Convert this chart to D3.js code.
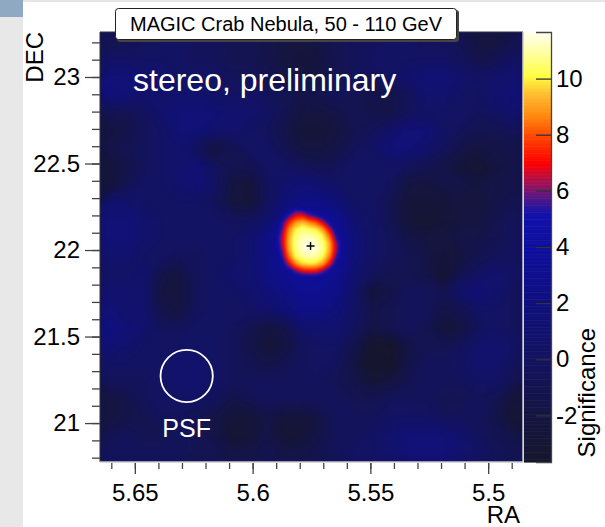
<!DOCTYPE html>
<html>
<head>
<meta charset="utf-8">
<script src="https://cdnjs.cloudflare.com/ajax/libs/d3/7.8.5/d3.min.js"></script>
<style>
  body { margin: 0; background: #fff; }
  svg { display: block; font-family: "Liberation Sans", Arial, Helvetica, sans-serif; }
</style>
</head>
<body>
<svg width="605" height="527"></svg>
<script>
// axis ranges
var raRange = [5.6648, 5.4852];
var decRange = [20.775, 23.26];
var zRange = [-3.66, 11.66];

// tick labels
var raMajor = [5.65, 5.6, 5.55, 5.5];
var decMajor = [21, 21.5, 22, 22.5, 23];
var zTicks = [-2, 0, 2, 4, 6, 8, 10];

// significance map, 24 x 24 cells over the whole frame (row 0 = top)
var bgRows = [
    [-0.9, -0.9, -0.3, 0.3, 0.3, -0.3, -0.3, -0.9, -0.9, -1.5, -2.1, -2.1, -1.5, -0.9, -0.3, -0.3, 0.3, 0.3, -0.3, -0.3, -0.9, -2.1, -2.1, -0.9],
    [0.3, 0.3, 0.3, 0.3, 0.3, -0.3, -0.3, -0.9, -0.9, -1.5, -2.1, -2.7, -2.1, -0.9, -0.3, 0.3, 0.3, 0.3, 0.3, 0.3, -0.3, -1.5, -0.9, 0.3],
    [1.5, 1.5, 0.9, 0.9, 0.3, 0.3, 0.3, -0.3, -0.3, -0.9, -1.5, -2.1, -1.5, -0.9, -0.3, -0.3, 0.3, 0.9, 1.5, 1.5, 0.9, 0.3, 0.9, 0.9],
    [2.1, 1.5, 0.9, 0.9, 0.9, 0.9, 0.3, 0.3, 0.3, -0.3, -0.9, -1.5, -0.9, -0.3, -0.9, -1.5, -1.5, -0.3, 0.9, 0.9, 0.3, 0.3, 0.9, 1.5],
    [-0.9, -0.9, -0.3, 0.9, 1.5, 1.5, 1.5, 0.9, 0.9, 0.3, -0.9, -2.1, -2.1, -1.5, -0.9, -1.5, -1.5, -0.3, 0.3, 0.3, 0.3, -0.3, 0.3, 0.9],
    [-2.1, -1.5, -0.3, 0.3, 1.5, 1.5, 0.9, 0.9, 0.3, -0.3, -1.5, -2.7, -2.7, -2.1, -0.9, -0.3, 0.9, 1.5, 1.5, 0.3, -0.3, -0.9, -0.9, -0.3],
    [-1.5, -0.9, -0.3, 0.3, 0.9, -0.3, -2.1, -0.9, 0.3, 0.3, -0.9, -2.1, -2.1, -1.5, -0.3, 0.3, 1.5, 1.5, 0.9, -0.3, -1.5, -2.1, -1.5, -1.5],
    [-2.7, -1.5, -0.3, 0.3, 0.9, 1.5, -0.3, -0.9, -0.9, 0.3, 0.3, -0.3, -0.9, -0.3, 0.3, 0.3, 0.3, -0.3, -0.9, -1.5, -2.7, -3.3, -2.1, -1.5],
    [-2.7, -0.9, 0.3, 0.3, 0.9, 1.5, 0.3, -2.1, -2.7, -0.3, 0.9, 1.5, 0.9, 0.3, 0.3, 0.3, -0.3, -2.1, -2.1, -1.5, -1.5, -2.1, -1.5, -1.5],
    [0.9, 0.9, 0.3, 0.3, 0.3, 0.3, -0.3, -2.1, -2.7, -0.3, 1.5, 2.5, 2.5, 1.5, 0.3, 0.3, -0.9, -2.7, -2.7, -2.7, -2.1, -2.1, -1.5, -0.9],
    [1.5, 1.5, 0.9, 0.3, 0.3, 0.3, 0.3, -0.3, -0.3, 0.9, 3.1, 3.7, 3.7, 3.1, 0.9, 0.3, -0.9, -2.7, -3.3, -2.7, -2.1, -2.1, -0.9, -0.3],
    [1.5, 1.5, 0.9, 0.3, 0.3, 0.3, 0.3, 0.3, 0.9, 2.5, 3.7, 4.2, 4.2, 3.7, 1.5, 0.3, -0.3, -1.5, -2.1, -2.1, -1.5, -1.5, -0.9, -0.3],
    [0.9, 0.9, 0.3, 0.3, -0.3, -0.3, 0.3, 0.3, 0.9, 2.5, 3.7, 4.2, 4.2, 3.7, 1.5, 0.3, -0.3, -0.9, -1.5, -2.7, -2.1, -0.9, -0.3, -0.3],
    [0.3, 0.3, 0.9, -1.5, -2.1, -0.3, 0.3, 0.9, 0.9, 2.5, 3.1, 3.7, 3.7, 3.1, 0.9, -0.3, -0.9, -0.9, -1.5, -3.3, -0.9, 0.3, 0.9, 0.3],
    [0.9, 0.9, 0.9, -2.1, -2.1, -0.3, 0.3, 0.3, 0.9, 1.5, 2.5, 3.1, 3.1, 2.5, 0.3, -2.7, -1.5, -0.3, -0.3, -0.9, 0.9, 1.5, 0.9, -0.3],
    [1.5, 0.9, 0.9, -1.5, -2.1, -0.3, 0.3, 0.3, 0.3, 0.9, 1.5, 2.5, 2.5, 1.5, 0.3, -1.5, -0.9, -0.3, -0.3, -1.5, -0.9, 0.3, 0.3, -0.3],
    [2.1, 1.5, 0.9, -0.3, -0.3, 0.3, 0.3, -0.3, -0.9, -2.1, -1.5, 0.9, 0.9, 0.9, -0.3, -1.5, -0.9, -0.3, -0.9, -2.7, -2.1, -0.3, 0.3, -0.3],
    [1.5, 0.9, 0.3, 0.3, 0.3, 0.3, 0.3, -0.3, -1.5, -2.7, -2.1, -0.3, 0.3, 0.3, -1.5, -3.8, -3.8, -1.5, -0.9, -0.9, -0.3, 0.9, 0.9, 0.3],
    [0.3, 0.3, 0.3, 0.3, 0.9, 0.9, 0.3, -0.3, -0.9, -1.5, -0.9, -0.3, 0.3, -0.3, -2.1, -4.4, -3.8, -1.5, -0.3, -0.3, 0.3, 0.9, 0.9, -0.3],
    [-0.3, -0.3, -0.3, 0.3, 0.9, 0.9, 0.3, -0.3, -0.3, -0.3, -0.3, -0.3, -0.3, -0.9, -1.5, -2.7, -2.1, -0.9, -0.3, -0.3, -0.3, 0.3, 0.3, -0.9],
    [-2.1, -1.5, -0.3, 0.3, 0.3, 0.3, -0.3, -1.5, -0.9, -0.3, -0.3, -0.3, -0.3, -0.3, -0.9, -0.9, -0.3, -0.3, -0.3, -0.9, -0.9, -0.3, -0.9, -2.7],
    [-2.1, -1.5, -0.9, -0.3, -0.3, -0.9, -1.5, -2.7, -2.7, -1.5, -2.7, -2.7, -1.5, -0.3, -0.3, -0.3, 0.3, 0.3, 0.3, -0.3, -0.3, -0.3, -1.5, -3.3],
    [-0.9, -0.3, -0.9, -0.9, -0.3, -0.9, -1.5, -3.3, -2.7, -1.5, -3.3, -2.7, -1.5, -0.3, -0.3, 0.3, 0.9, 1.5, 1.5, 1.5, 0.9, -0.3, -0.9, -1.5],
    [-0.3, -0.3, -0.3, -0.3, -0.3, -0.9, -0.9, -1.5, -1.5, -0.9, -1.5, -1.5, -0.9, -0.3, 0.3, 0.3, 0.9, 1.5, 1.5, 1.5, 0.9, 0.3, -0.3, -0.9]
];

// finer cut-out around the Crab, 12 x 13 cells
var srcRa = [5.595, 5.560];
var srcDec = [22.30, 21.78];
var srcRows = [
    [3.4, 3.5, 3.7, 3.8, 3.9, 3.8, 3.7, 3.6, 3.5, 3.4, 3.3, 3.2],
    [3.4, 3.65, 3.85, 4.2, 4.7, 4.45, 4.1, 3.95, 3.8, 3.6, 3.45, 3.3],
    [3.5, 3.8, 4.25, 5.3, 6.85, 7.05, 5.85, 5.2, 4.35, 3.9, 3.65, 3.4],
    [3.55, 3.9, 4.9, 7.3, 8.8, 9.4, 8.7, 8.05, 6.6, 4.65, 3.9, 3.6],
    [3.6, 3.95, 5.45, 8.5, 9.95, 10.55, 10.3, 10.0, 8.95, 6.7, 4.3, 3.75],
    [3.65, 4.1, 6.1, 8.95, 10.5, 11.1, 11.15, 10.85, 10.1, 8.25, 5.1, 3.9],
    [3.6, 4.05, 6.15, 9.15, 10.65, 11.35, 11.5, 11.35, 10.65, 9.1, 6.05, 4.05],
    [3.55, 3.95, 5.65, 8.9, 10.55, 11.3, 11.6, 11.35, 10.7, 9.15, 6.15, 4.05],
    [3.5, 3.85, 5.0, 8.15, 10.05, 10.8, 11.0, 10.9, 10.2, 8.5, 5.45, 3.95],
    [3.45, 3.75, 4.3, 6.55, 8.7, 9.65, 9.9, 9.75, 8.95, 6.95, 4.45, 3.8],
    [3.35, 3.6, 3.85, 4.45, 5.85, 7.0, 7.2, 7.1, 6.1, 4.65, 3.95, 3.6],
    [3.25, 3.4, 3.6, 3.8, 4.05, 4.25, 4.25, 4.25, 4.1, 3.85, 3.65, 3.45],
    [3.15, 3.3, 3.45, 3.55, 3.65, 3.7, 3.7, 3.7, 3.65, 3.55, 3.45, 3.3]
];

var psf = {ra: 5.628, dec: 21.272, r: 0.151};
var crab = {ra: 5.5754, dec: 22.023};

// palette of the colour bar
var palStops = [-3.66, -2, 0, 2, 4, 5.2, 5.8, 6.4, 7, 8, 8.7, 9.5, 10.1, 11, 11.66];
var palColors = ['#16162e', '#151542', '#131360', '#10107e', '#0e0e9e', '#1212aa', '#581884', '#b0104a',
                 '#ff0000', '#ff4a00', '#ff8a10', '#ffc030', '#ffff40', '#ffffa8', '#ffffee'];

var svg = d3.select('svg');
var frame = {l: 100, r: 523, t: 32, b: 462};
var bar = {l: 524, r: 551};
var font = '"Liberation Sans", Arial, Helvetica, sans-serif';

var xScale = d3.scaleLinear().domain(raRange).range([frame.l, frame.r]);
var yScale = d3.scaleLinear().domain(decRange).range([frame.b, frame.t]);
var zScale = d3.scaleLinear().domain(zRange).range([frame.b, frame.t]);
var color = d3.scaleLinear().domain(palStops).range(palColors).clamp(true);

// page decoration on the left
svg.append('rect').attr('x', 0).attr('y', 0).attr('width', 605).attr('height', 2).attr('fill', '#e6e6e6');
svg.append('rect').attr('x', 0).attr('y', 0).attr('width', 23).attr('height', 527).attr('fill', '#e8e8e8');
svg.append('rect').attr('x', 0).attr('y', 0).attr('width', 23).attr('height', 17).attr('fill', '#8ea9c1');

var defs = svg.append('defs');
defs.append('clipPath').attr('id', 'plotClip')
    .append('rect')
    .attr('x', frame.l).attr('y', frame.t)
    .attr('width', frame.r - frame.l).attr('height', frame.b - frame.t);
defs.append('filter').attr('id', 'softBg')
    .attr('color-interpolation-filters', 'sRGB')
    .append('feGaussianBlur').attr('stdDeviation', 3);
defs.append('filter').attr('id', 'softSrc')
    .attr('color-interpolation-filters', 'sRGB')
    .append('feGaussianBlur').attr('stdDeviation', 1.2);

var mapG = svg.append('g').attr('clip-path', 'url(#plotClip)');
mapG.append('rect')
    .attr('x', frame.l).attr('y', frame.t)
    .attr('width', frame.r - frame.l).attr('height', frame.b - frame.t)
    .attr('fill', color(-0.3));

// draws a grid of values as filled contour bands
function drawGrid(g, rows, ra, dec, thresholds) {
    var nx = rows[0].length, ny = rows.length;
    var gx = d3.scaleLinear().domain([0, nx]).range([xScale(ra[0]), xScale(ra[1])]);
    var gy = d3.scaleLinear().domain([0, ny]).range([yScale(dec[0]), yScale(dec[1])]);
    var path = d3.geoPath(d3.geoTransform({
        point: function(x, y) { this.stream.point(gx(x), gy(y)); }
    }));
    var bands = d3.contours().size([nx, ny]).thresholds(thresholds)(d3.merge(rows));
    g.selectAll('path')
        .data(bands)
        .enter()
        .append('path')
        .attr('d', path)
        .attr('fill', function(d) { return color(d.value + 0.05); })
        .attr('stroke', 'none');
}

var bgG = mapG.append('g').attr('filter', 'url(#softBg)');
drawGrid(bgG, bgRows, [raRange[0], raRange[1]], [decRange[1], decRange[0]], d3.range(-4.5, 4.8, 0.1));

var srcG = mapG.append('g').attr('filter', 'url(#softSrc)');
drawGrid(srcG, srcRows, srcRa, srcDec, d3.range(4.6, 11.7, 0.1));

// source marker
var cx = xScale(crab.ra), cy = yScale(crab.dec);
mapG.append('path')
    .attr('d', 'M' + (cx - 4) + ',' + cy + 'H' + (cx + 4) + 'M' + cx + ',' + (cy - 4) + 'V' + (cy + 4))
    .attr('stroke', '#000').attr('stroke-width', 1.4);

// PSF circle
mapG.append('circle')
    .attr('cx', xScale(psf.ra))
    .attr('cy', yScale(psf.dec))
    .attr('r', yScale(psf.dec - psf.r) - yScale(psf.dec))
    .attr('fill', 'none').attr('stroke', '#fff').attr('stroke-width', 1.8);
mapG.append('text')
    .attr('x', xScale(psf.ra)).attr('y', 437)
    .attr('text-anchor', 'middle')
    .attr('font-size', '25px').attr('fill', '#fff')
    .text('PSF');

mapG.append('text')
    .attr('x', 133).attr('y', 91)
    .attr('font-size', '32px').attr('fill', '#fff')
    .text('stereo, preliminary');

// frame
svg.append('line').attr('x1', frame.l).attr('x2', frame.l).attr('y1', frame.t).attr('y2', frame.b)
    .attr('stroke', '#333').attr('stroke-width', 1);
svg.append('line').attr('x1', frame.l).attr('x2', frame.r).attr('y1', frame.t).attr('y2', frame.t)
    .attr('stroke', '#333').attr('stroke-width', 1);
svg.append('line').attr('x1', frame.l).attr('x2', frame.r).attr('y1', frame.b).attr('y2', frame.b)
    .attr('stroke', '#c8c8cc').attr('stroke-width', 1.5);
svg.append('line').attr('x1', frame.r).attr('x2', frame.r).attr('y1', frame.t).attr('y2', frame.b)
    .attr('stroke', '#c8c8cc').attr('stroke-width', 1.5);

// axes
function styleAxis(g) {
    g.select('.domain').remove();
    g.selectAll('.tick line').attr('stroke', '#444').attr('stroke-width', 1.3);
    g.selectAll('.tick text').attr('fill', '#000').attr('font-size', '24px').attr('font-family', font);
}

svg.append('g')
    .attr('transform', 'translate(0,' + (frame.b + 1) + ')')
    .call(d3.axisBottom(xScale).tickValues(xScale.ticks(20)).tickSize(6).tickFormat(''))
    .call(styleAxis);
svg.append('g')
    .attr('transform', 'translate(0,' + (frame.b + 1) + ')')
    .call(d3.axisBottom(xScale).tickValues(raMajor).tickSize(11).tickPadding(10)
        .tickFormat(function(d) { return String(d); }))
    .call(styleAxis);

svg.append('g')
    .attr('transform', 'translate(' + frame.l + ',0)')
    .call(d3.axisLeft(yScale).tickValues(yScale.ticks(25)).tickSize(8).tickFormat(''))
    .call(styleAxis);
svg.append('g')
    .attr('transform', 'translate(' + frame.l + ',0)')
    .call(d3.axisLeft(yScale).tickValues(decMajor).tickSize(15).tickPadding(5)
        .tickFormat(function(d) { return String(d); }))
    .call(styleAxis);

// colour bar
var zSteps = d3.range(zRange[0], zRange[1], 0.05);
svg.append('g').selectAll('rect')
    .data(zSteps)
    .enter()
    .append('rect')
    .attr('x', bar.l)
    .attr('width', bar.r - bar.l)
    .attr('y', function(d) { return zScale(Math.min(d + 0.05, zRange[1])); })
    .attr('height', function(d) { return zScale(d) - zScale(Math.min(d + 0.05, zRange[1])) + 0.6; })
    .attr('fill', function(d) { return color(d + 0.025); });

svg.append('g')
    .attr('transform', 'translate(' + bar.r + ',0)')
    .call(d3.axisRight(zScale).tickValues(zTicks).tickSize(-15).tickPadding(5)
        .tickFormat(function(d) { return String(d); }))
    .call(function(g) {
        g.select('.domain').attr('stroke', '#444').attr('stroke-width', 1.3);
        g.selectAll('.tick line').attr('stroke', '#333').attr('stroke-width', 1.3);
        g.selectAll('.tick text').attr('x', 5).attr('text-anchor', 'start')
            .attr('fill', '#000').attr('font-size', '24px').attr('font-family', font);
    });

// axis titles
svg.append('text')
    .attr('x', 520).attr('y', 523)
    .attr('text-anchor', 'end').attr('font-size', '24px')
    .text('RA');
svg.append('text')
    .attr('transform', 'translate(43,32) rotate(-90)')
    .attr('text-anchor', 'end').attr('font-size', '24px')
    .text('DEC');
svg.append('text')
    .attr('transform', 'translate(595,328) rotate(-90)')
    .attr('text-anchor', 'end').attr('font-size', '24px')
    .text('Significance');

// title box
svg.append('rect')
    .attr('x', 117).attr('y', 10).attr('width', 342).attr('height', 32).attr('rx', 3)
    .attr('fill', '#444');
svg.append('rect')
    .attr('x', 115.5).attr('y', 8.5).attr('width', 341).attr('height', 31).attr('rx', 3)
    .attr('fill', '#fff').attr('stroke', '#222').attr('stroke-width', 1);
svg.append('text')
    .attr('x', 286).attr('y', 31)
    .attr('text-anchor', 'middle').attr('font-size', '20px')
    .text('MAGIC Crab Nebula, 50 - 110 GeV');
</script>
</body>
</html>
